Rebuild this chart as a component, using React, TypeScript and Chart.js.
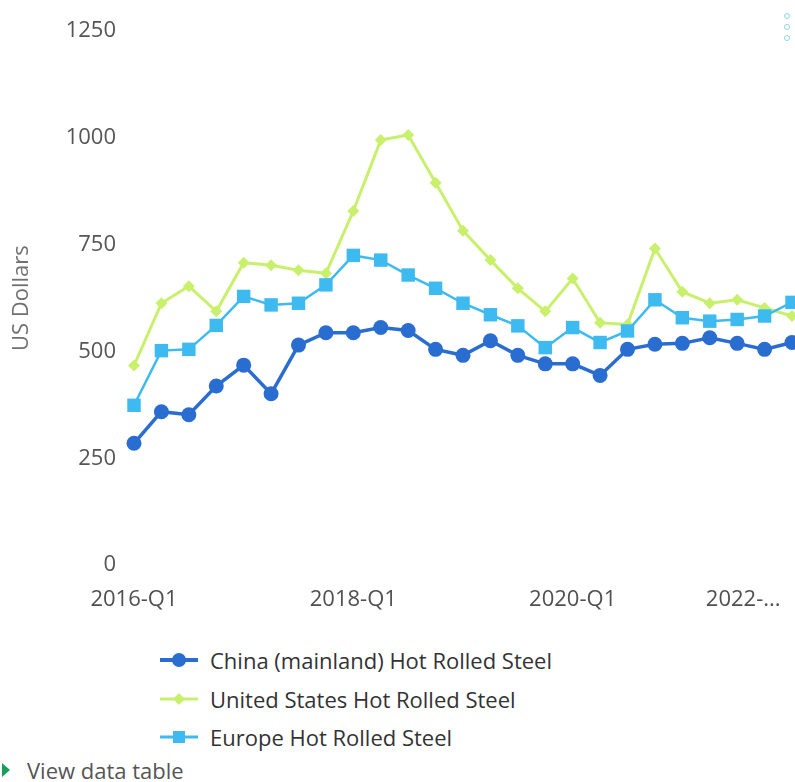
import React, { useEffect, useRef } from 'react';
import { Chart, registerables } from 'chart.js';

Chart.register(...registerables);

// ---- data ----
const quarters = [
  '2016-Q1', '2016-Q2', '2016-Q3', '2016-Q4',
  '2017-Q1', '2017-Q2', '2017-Q3', '2017-Q4',
  '2018-Q1', '2018-Q2', '2018-Q3', '2018-Q4',
  '2019-Q1', '2019-Q2', '2019-Q3', '2019-Q4',
  '2020-Q1', '2020-Q2', '2020-Q3', '2020-Q4',
  '2021-Q1', '2021-Q2', '2021-Q3', '2021-Q4',
  '2022-Q1',
];

const chinaHRS = [285, 359, 352, 419, 468, 401, 515, 544, 544, 556, 549, 505, 491, 525, 491, 471, 471, 444, 505, 517, 519, 532, 519, 505, 521];
const usHRS = [467, 613, 653, 594, 708, 702, 690, 683, 829, 995, 1007, 895, 783, 714, 648, 594, 671, 567, 563, 741, 640, 613, 621, 602, 583];
const europeHRS = [374, 502, 505, 561, 629, 609, 613, 656, 725, 714, 679, 648, 613, 586, 560, 509, 556, 521, 548, 621, 579, 571, 575, 583, 615];

const seriesNames = [
  'China (mainland) Hot Rolled Steel',
  'United States Hot Rolled Steel',
  'Europe Hot Rolled Steel',
];
const seriesColors = ['#2a6dd0', '#c9f06c', '#3dbaf0'];

const xLabelIndices = [-1, 0, 8, 16, 24];
const lastXLabel = '2022-...  ';
const yMax = 1250;
const yStep = 250;
const yTitle = 'US Dollars';

const FONT = "'Open Sans', 'Noto Sans', sans-serif";

function LegendSymbol({ idx }: { idx: number }) {
  const c = seriesColors[idx];
  return (
    <svg width="38" height="20" style={{ display: 'block' }}>
      <line x1="0" y1="10" x2="38" y2="10" stroke={c} strokeWidth={idx === 0 ? 4 : 3} />
      {idx === 0 && <circle cx="19" cy="10" r="7" fill={c} />}
      {idx === 1 && <polygon points="19,4 25,10 19,16 13,10" fill={c} />}
      {idx === 2 && <rect x="13" y="4" width="12" height="12" fill={c} />}
    </svg>
  );
}

export default function App() {
  const canvasRef = useRef<HTMLCanvasElement | null>(null);

  useEffect(() => {
    const canvas = canvasRef.current;
    if (!canvas) return;
    const chart = new Chart(canvas, {
      type: 'line',
      data: {
        labels: quarters,
        datasets: [
          {
            label: seriesNames[0],
            data: chinaHRS,
            borderColor: seriesColors[0],
            backgroundColor: seriesColors[0],
            borderWidth: 3.5,
            pointStyle: 'circle',
            pointRadius: 7.5,
            pointBorderWidth: 0,
            order: 0,
            clip: false,
          },
          {
            label: seriesNames[1],
            data: usHRS,
            borderColor: seriesColors[1],
            backgroundColor: seriesColors[1],
            borderWidth: 3,
            pointStyle: 'rectRot',
            pointRadius: 6,
            pointBorderWidth: 0,
            order: 2,
            clip: false,
          },
          {
            label: seriesNames[2],
            data: europeHRS,
            borderColor: seriesColors[2],
            backgroundColor: seriesColors[2],
            borderWidth: 2.5,
            pointStyle: 'rect',
            pointRadius: 9.5,
            pointBorderWidth: 0,
            order: 1,
            clip: false,
          },
        ],
      },
      options: {
        animation: false,
        responsive: false,
        devicePixelRatio: 1,
        layout: { padding: { left: 0, right: 58, top: 25, bottom: 0 } },
        plugins: {
          legend: { display: false },
          tooltip: { enabled: false },
        },
        scales: {
          x: {
            type: 'category',
            offset: false,
            grid: { display: false, drawTicks: false },
            border: { display: false },
            afterBuildTicks: (scale: any) => {
              scale.ticks = xLabelIndices.map((v) => ({ value: v }));
            },
            afterFit: (scale: any) => {
              scale.height = 75;
            },
            ticks: {
              autoSkip: false,
              maxRotation: 0,
              minRotation: 0,
              align: 'inner',
              padding: 22,
              color: '#505050',
              font: { family: FONT, size: 22 },
              callback: (value: any) => {
                const v = Number(value);
                if (v < 0) return '';
                if (v === quarters.length - 1) return lastXLabel;
                return quarters[v];
              },
            },
          },
          y: {
            min: 0,
            max: yMax,
            grid: { display: false, drawTicks: false },
            border: { display: false },
            afterFit: (scale: any) => {
              scale.width = 134;
            },
            ticks: {
              stepSize: yStep,
              padding: 18,
              color: '#555555',
              font: { family: FONT, size: 22 },
              callback: (value: any) => String(value),
            },
            title: {
              display: true,
              text: yTitle,
              color: '#707070',
              font: { family: FONT, size: 22 },
              padding: { top: 9, bottom: 0 },
            },
          },
        },
      },
    } as any);
    return () => chart.destroy();
  }, []);

  return (
    <div
      style={{
        position: 'absolute',
        left: 0,
        top: 0,
        width: 795,
        height: 782,
        overflow: 'hidden',
        background: '#ffffff',
        fontFamily: FONT,
      }}
    >
      <canvas
        ref={canvasRef}
        width={850}
        height={640}
        style={{ position: 'absolute', left: 0, top: 0, width: 850, height: 640 }}
      />
      {/* context menu dots */}
      <div style={{ position: 'absolute', left: 784, top: 13 }}>
        {[0, 1, 2].map((i) => (
          <div
            key={i}
            style={{
              width: 4,
              height: 4,
              borderRadius: '50%',
              border: '1px solid #8fd3e6',
              marginBottom: 5,
            }}
          />
        ))}
      </div>
      {/* legend */}
      {seriesNames.map((name, i) => (
        <div
          key={name}
          style={{
            position: 'absolute',
            left: 160,
            top: 660 + i * 38.5 - 16,
            height: 32,
            display: 'flex',
            alignItems: 'center',
            color: '#333333',
            fontSize: 22,
            whiteSpace: 'nowrap',
          }}
        >
          <LegendSymbol idx={i} />
          <span style={{ marginLeft: 12 }}>{name}</span>
        </div>
      ))}
      {/* view data table */}
      <div
        style={{
          position: 'absolute',
          left: 2,
          top: 754,
          height: 32,
          display: 'flex',
          alignItems: 'center',
          color: '#555555',
          fontSize: 22,
          whiteSpace: 'nowrap',
        }}
      >
        <div
          style={{
            width: 0,
            height: 0,
            borderTop: '7px solid transparent',
            borderBottom: '7px solid transparent',
            borderLeft: '8px solid #1a9e5c',
          }}
        />
        <span style={{ marginLeft: 17 }}>View data table</span>
      </div>
    </div>
  );
}
